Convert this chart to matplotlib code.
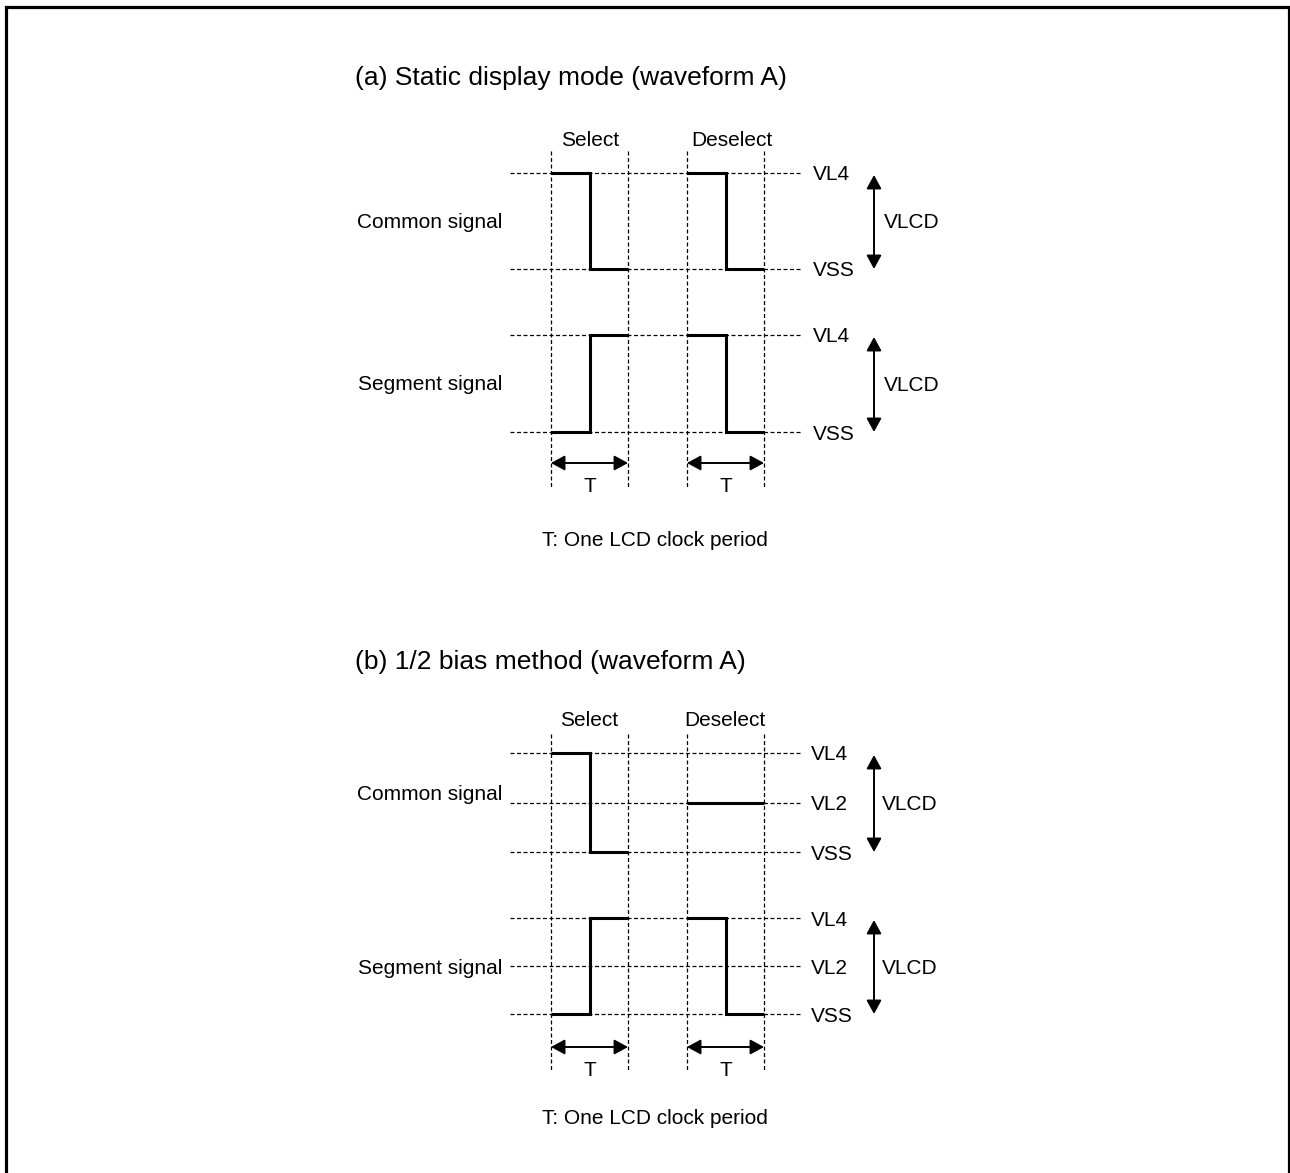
import matplotlib.pyplot as plt

plt.rcParams['font.family'] = ['Liberation Sans', 'DejaVu Sans']

# signal level per half period: select (1st, 2nd half), deselect (1st, 2nd half)
# 1 = VL4, 0.5 = VL2, 0 = VSS
static_common = [1, 0, 1, 0]
static_segment = [0, 1, 1, 0]
bias_common = [1, 0, 0.5, 0.5]
bias_segment = [0, 1, 1, 0]

static_levels = ["VL4", "VSS"]
static_level_values = [1, 0]
bias_levels = ["VL4", "VL2", "VSS"]
bias_level_values = [1, 0.5, 0]

row_labels = ["Common signal", "Segment signal"]
period_labels = ["Select", "Deselect"]
titles = ["(a) Static display mode (waveform A)", "(b) 1/2 bias method (waveform A)"]
footnote = "T: One LCD clock period"
swing_label = "VLCD"
period_symbol = "T"

# layout in pixels
W, H = 1290, 1173
PERIOD_X = [551, 687]
PERIOD_W = 77
LINE_X0, LINE_X1 = 510, 800
LEVEL_LABEL_X = 811
ARROW_X = 874
FS = 15
FS_TITLE = 19
PX_PER_PT = 100 / 72.0
ARROW = '<|-|>,head_length=0.55,head_width=0.3'


def baseline(yc, fs):
    # put the cap height centre of the text at yc
    return yc + 0.36 * fs * PX_PER_PT


fig = plt.figure(figsize=(W / 100, H / 100), dpi=100)
ax = fig.add_axes([0, 0, 1, 1])
ax.set_xlim(0, W)
ax.set_ylim(H, 0)
ax.axis('off')

# frame (no bottom edge)
ax.plot([5.5, 5.5, 1288.5, 1288.5], [H + 5, 7, 7, H + 5], color='black', lw=2.3,
        solid_joinstyle='miter')

dash = (0, (3.2, 2.0))


def draw_row(levels, values, wave, y_top, y_bot, label, label_y, label_x_off=0):
    def ypos(v):
        return y_bot - v * (y_bot - y_top)

    for name, v in zip(levels, values):
        y = ypos(v)
        ax.plot([LINE_X0, LINE_X1], [y, y], color='black', lw=0.9, linestyle=dash)
        ax.text(LEVEL_LABEL_X + label_x_off, baseline(y, FS), name, fontsize=FS,
                ha='left', va='baseline')

    for p, x0 in enumerate(PERIOD_X):
        v0, v1 = wave[2 * p], wave[2 * p + 1]
        xm = x0 + PERIOD_W / 2
        ax.plot([x0, xm, xm, x0 + PERIOD_W], [ypos(v0), ypos(v0), ypos(v1), ypos(v1)],
                color='black', lw=2.2, solid_joinstyle='miter', solid_capstyle='butt')

    ax.annotate('', xy=(ARROW_X, y_top + 2), xytext=(ARROW_X, y_bot),
                arrowprops=dict(arrowstyle=ARROW, mutation_scale=15, color='black',
                                lw=1.4, shrinkA=0, shrinkB=0))
    ax.text(ARROW_X + 8 + label_x_off, baseline((y_top + y_bot) / 2, FS), swing_label,
            fontsize=FS, ha='left', va='baseline')
    ax.text(502, baseline(label_y, FS), label, fontsize=FS, ha='right', va='baseline')


def draw_panel(title, title_y, head_y, head_x, v_top, v_bot, t_arrow_y, t_label_y, foot_y):
    ax.text(355, baseline(title_y, FS_TITLE), title, fontsize=FS_TITLE,
            ha='left', va='baseline')
    for name, x in zip(period_labels, head_x):
        ax.text(x, baseline(head_y, FS), name, fontsize=FS, ha='center', va='baseline')
    for x0 in PERIOD_X:
        for x in (x0, x0 + PERIOD_W):
            ax.plot([x, x], [v_top, v_bot], color='black', lw=0.9, linestyle=dash)
        ax.annotate('', xy=(x0 + PERIOD_W, t_arrow_y), xytext=(x0, t_arrow_y),
                    arrowprops=dict(arrowstyle=ARROW, mutation_scale=15, color='black',
                                    lw=1.4, shrinkA=0, shrinkB=0))
        ax.text(x0 + PERIOD_W / 2, baseline(t_label_y, FS), period_symbol, fontsize=FS,
                ha='center', va='baseline')
    ax.text(655, baseline(foot_y, FS), footnote, fontsize=FS, ha='center', va='baseline')


# (a) static display mode
draw_panel(titles[0], 76, 138, [590, 732], 151, 488, 463, 485, 538)
draw_row(static_levels, static_level_values, static_common, 173, 269,
         row_labels[0], 221, label_x_off=2)
draw_row(static_levels, static_level_values, static_segment, 335, 432,
         row_labels[1], 383, label_x_off=2)

# (b) 1/2 bias method
draw_panel(titles[1], 660, 718, [589, 725], 734, 1070, 1047, 1068, 1117)
draw_row(bias_levels, bias_level_values, bias_common, 753, 852,
         row_labels[0], 793)
draw_row(bias_levels, bias_level_values, bias_segment, 918, 1014,
         row_labels[1], 966)

fig.savefig('out.png', dpi=100)
